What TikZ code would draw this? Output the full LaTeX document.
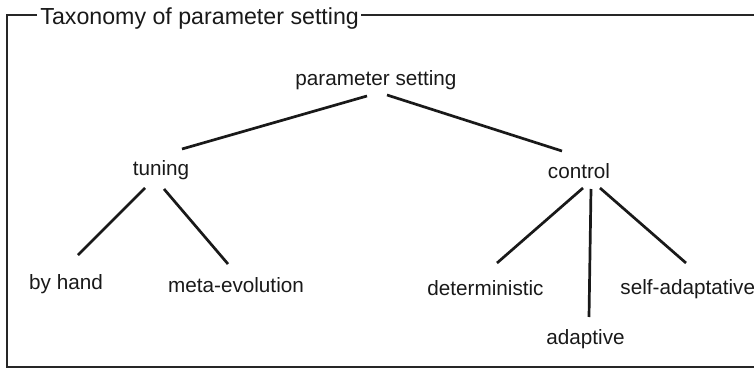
\documentclass[tikz,border=0pt]{standalone}
\usepackage{fontspec}
\setmainfont{Liberation Sans}
\begin{document}
\begin{tikzpicture}[x=0.5pt,y=-0.5pt,
  label/.style={inner sep=0pt,anchor=base,font=\fontsize{10.35}{12}\selectfont,text=black!90},
  heading/.style={inner sep=0pt,anchor=base west,font=\fontsize{11.6}{14}\selectfont,text=black!90},
  edge/.style={line width=1.35pt,black!90},
  frame/.style={line width=1.35pt,black!85}]
\clip (0,0) rectangle (754,369);

% frame with its heading
\node[heading] (title) at (40,25) {Taxonomy of parameter setting};
\coordinate (tr) at (760,15);
\coordinate (tl) at (7,15);
\coordinate (br) at (760,367);
\draw[frame] ([shift={(-3,-10)}]title.base west) -- (tl) |- (br);
\draw[frame] ([shift={(2,-10)}]title.base east) -- (tr);

% tree nodes
\node[label] (ps)   at (376,86)  {parameter setting};
\node[label] (tun)  at (161,175) {tuning};
\node[label] (ctl)  at (579,178) {control};
\node[label] (hand) at (66,289)  {by hand};
\node[label] (meta) at (236,292) {meta-evolution};
\node[label] (det)  at (485.5,295) {deterministic};
\node[label] (adp)  at (585.5,344) {adaptive};
\node[label,anchor=base west] (self) at (620,294) {self-adaptative};

% connectors
\draw[edge] ([shift={(-9,10)}]ps.base)  -- ([shift={(21,-26)}]tun.base);
\draw[edge] ([shift={(11,9)}]ps.base)   -- ([shift={(-17,-27)}]ctl.base);
\draw[edge] ([shift={(-16,13)}]tun.base) -- ([shift={(12,-34)}]hand.base);
\draw[edge] ([shift={(3,14)}]tun.base)  -- ([shift={(-8,-28)}]meta.base);
\draw[edge] ([shift={(4,10)}]ctl.base)  -- ([shift={(11.5,-32)}]det.base);
\draw[edge] ([shift={(12,11)}]ctl.base) -- ([shift={(3.5,-27)}]adp.base);
\draw[edge] ([shift={(21,10)}]ctl.base) -- ([shift={(66,-31)}]self.base west);
\end{tikzpicture}
\end{document}
